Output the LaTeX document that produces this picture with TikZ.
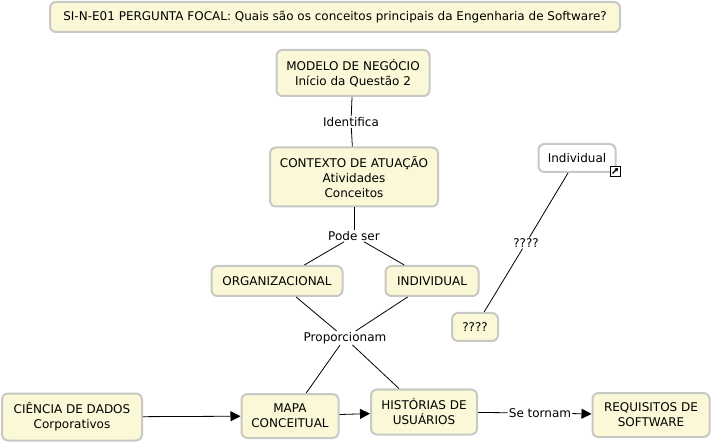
\documentclass[tikz,border=0pt]{standalone}
\usepackage{fontspec}
\setmainfont{DejaVu Sans}
\usetikzlibrary{arrows.meta,calc}
\definecolor{boxfill}{RGB}{250,248,214}
\definecolor{boxline}{RGB}{200,200,196}
\tikzset{
  concept/.style={draw=boxline, line width=2pt, fill=boxfill, rounded corners=6pt, align=center, inner sep=0pt, font=\fontsize{12}{15}\selectfont},
  whitebox/.style={concept, fill=white},
  lbl/.style={fill=white, inner sep=1pt, font=\fontsize{12}{15}\selectfont},
  link/.style={draw=black, line width=0.8pt},
  arr/.style={link, -{Triangle[length=10pt,width=10pt]}},
}
\begin{document}
\begin{tikzpicture}[x=1pt,y=-1pt]
\useasboundingbox (0,0) rectangle (712,443);
\fill[white] (0,0) rectangle (712,443);
\node[concept, minimum width=570pt, minimum height=30pt] (title) at (335,17) {SI-N-E01 PERGUNTA FOCAL: Quais são os conceitos principais da Engenharia de Software?};
\node[concept, minimum width=153pt, minimum height=46pt] (modelo) at (353,73) {MODELO DE NEGÓCIO\\Início da Questão 2};
\node[concept, minimum width=168pt, minimum height=59pt] (contexto) at (354,177) {CONTEXTO DE ATUAÇÃO\\Atividades\\Conceitos};
\node[concept, minimum width=131pt, minimum height=30pt] (org) at (277,281) {ORGANIZACIONAL};
\node[concept, minimum width=93pt, minimum height=30pt] (ind) at (432,281) {INDIVIDUAL};
\node[whitebox, minimum width=77pt, minimum height=28pt] (indw) at (577,158) {Individual};
\node[draw=black, line width=0.8pt, fill=white, minimum size=10pt, inner sep=0pt] (icon) at (615,171) {};
\draw[line width=1.2pt, -{Triangle[length=3pt,width=4pt]}] ($(icon.center)+(-2.5,2.5)$) -- ($(icon.center)+(3,-3)$);
\node[concept, minimum width=46pt, minimum height=28pt] (q) at (475,327) {????};
\node[concept, minimum width=140pt, minimum height=47pt] (ciencia) at (72,417) {CIÊNCIA DE DADOS\\Corporativos};
\node[concept, minimum width=97pt, minimum height=44pt] (mapa) at (290,416) {MAPA\\CONCEITUAL};
\node[concept, minimum width=106pt, minimum height=45pt] (hist) at (424,412) {HISTÓRIAS DE\\USUÁRIOS};
\node[concept, minimum width=117pt, minimum height=44pt] (req) at (651,415) {REQUISITOS DE\\SOFTWARE};

\node[lbl] (identifica) at (351,122) {Identifica};
\node[lbl] (podeser) at (354,236) {Pode ser};
\node[lbl] (proporcionam) at (345,338) {Proporcionam};
\node[lbl] (qlbl) at (526,243) {????};
\node[lbl] (setornam) at (540,413) {Se tornam};

\draw[link] (modelo) -- (identifica);
\draw[link] (identifica) -- (contexto);
\draw[link] (contexto) -- (podeser);
\draw[link] (podeser) -- (org);
\draw[link] (podeser) -- (ind);
\draw[link] (org) -- (proporcionam);
\draw[link] (ind) -- (proporcionam);
\draw[link] (proporcionam) -- (mapa);
\draw[link] (proporcionam) -- (hist);
\draw[link] (indw) -- (qlbl);
\draw[link] (qlbl) -- (q);
\draw[arr] (ciencia) -- (mapa);
\draw[arr] (mapa) -- (hist);
\draw[link] (hist) -- (setornam);
\draw[arr] (setornam) -- (req);
\end{tikzpicture}
\end{document}
